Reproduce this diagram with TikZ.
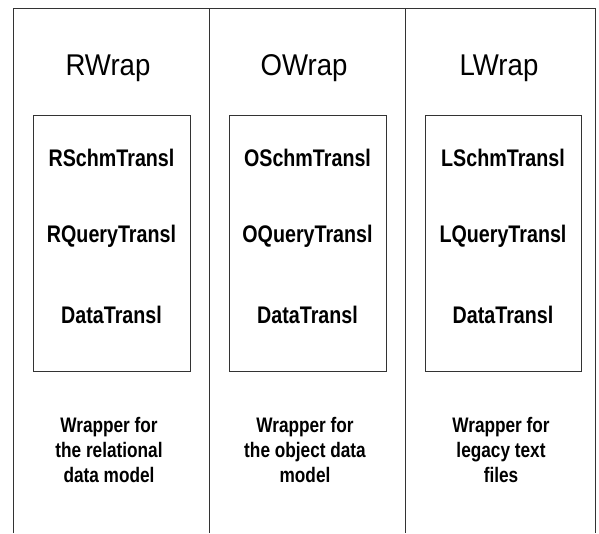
\documentclass[tikz,border=0pt]{standalone}
\usepackage{fontspec}
\setmainfont{Liberation Sans}
\newfontfamily\titlefont[FakeStretch=0.92]{Liberation Sans}
\newfontfamily\narrowfont[FakeStretch=0.82]{Liberation Sans}
\begin{document}
\begin{tikzpicture}[x=0.75pt,y=-0.75pt,
  frame/.style={draw=black!80,line width=0.75pt},
  wraptitle/.style={anchor=base,inner sep=0pt,font=\titlefont\fontsize{22.5}{27}\selectfont},
  module/.style={anchor=base,inner sep=0pt,font=\narrowfont\bfseries\fontsize{18}{21}\selectfont},
  caption/.style={anchor=base,inner sep=0pt,align=center,font=\narrowfont\bfseries\fontsize{15.75}{18.75}\selectfont}]
\useasboundingbox (0,0) rectangle (599,533);
% outer frame lines
\coordinate (tl) at (13,8);
\coordinate (tr) at (595,8);
\coordinate (bl) at (13,533);
\coordinate (br) at (595,533);
\coordinate (s1t) at (209,8);
\coordinate (s1b) at (209,533);
\coordinate (s2t) at (405,8);
\coordinate (s2b) at (405,533);
\draw[frame] (bl) -- (tl) -- (tr) -- (br);
\draw[frame] (s1t) -- (s1b);
\draw[frame] (s2t) -- (s2b);
% inner boxes
\draw[frame] (33,115) rectangle (190,371);
\draw[frame] (229,115) rectangle (386,371);
\draw[frame] (425,115) rectangle (581,371);
% column 1
\node[wraptitle] (rwrap) at (108,75) {RWrap};
\node[module] (rschm) at (111.5,166) {RSchmTransl};
\node[module] (rquery) at (111.5,242) {RQueryTransl};
\node[module] (rdata) at (111.5,323) {DataTransl};
\node[caption] (rcap) at (109,482) {Wrapper for\\the relational\\data model};
% column 2
\node[wraptitle] (owrap) at (304,75) {OWrap};
\node[module] (oschm) at (307.5,166) {OSchmTransl};
\node[module] (oquery) at (307.5,242) {OQueryTransl};
\node[module] (odata) at (307.5,323) {DataTransl};
\node[caption] (ocap) at (305,482) {Wrapper for\\the object data\\model};
% column 3
\node[wraptitle] (lwrap) at (499,75) {LWrap};
\node[module] (lschm) at (503,166) {LSchmTransl};
\node[module] (lquery) at (503,242) {LQueryTransl};
\node[module] (ldata) at (503,323) {DataTransl};
\node[caption] (lcap) at (501,482) {Wrapper for\\legacy text\\files};
\end{tikzpicture}
\end{document}
